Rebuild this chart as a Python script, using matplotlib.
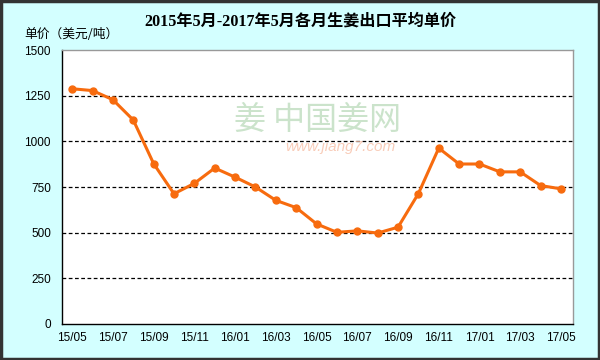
import matplotlib.pyplot as plt
import numpy as np

# monthly average export price of ginger, 2015/05 - 2017/05
months = ['15/05', '15/06', '15/07', '15/08', '15/09', '15/10', '15/11', '15/12',
          '16/01', '16/02', '16/03', '16/04', '16/05', '16/06', '16/07', '16/08',
          '16/09', '16/10', '16/11', '16/12', '17/01', '17/02', '17/03', '17/04', '17/05']
prices = [1288, 1278, 1228, 1117, 878, 713, 770, 854,
          804, 750, 677, 637, 548, 502, 510, 498,
          530, 714, 963, 876, 876, 833, 833, 758, 740]
yticks = [0, 250, 500, 750, 1000, 1250, 1500]

plt.rcParams['font.family'] = ['Liberation Sans', 'Noto Sans CJK SC']

fig = plt.figure(figsize=(6, 3.6), dpi=100, facecolor='#D3FFFF')
ax = fig.add_axes([0.1033, 0.1, 0.852, 0.761])

x = np.arange(len(months))
ax.plot(x, prices, color='#F76B0E', lw=2.2, marker='o', ms=5, zorder=3)

ax.set_xlim(-0.5, len(months) - 0.4)
ax.set_ylim(0, 1500)
ax.set_yticks(yticks)
ax.set_xticks(x[::2])
ax.set_xticklabels(months[::2])
ax.tick_params(length=0, labelsize=8.5, pad=6)
ax.tick_params(axis='y', pad=8)
for y in yticks[1:-1]:
    ax.axhline(y, color='black', lw=0.9, ls=(0, (3, 2)), zorder=1)
for s in ax.spines.values():
    s.set_color('black')
    s.set_linewidth(1)
ax.spines['top'].set_color('#999999')
ax.spines['right'].set_color('#999999')

fig.text(0.5, 0.94, '2015年5月-2017年5月各月生姜出口平均单价',
         family=['Liberation Serif', 'Noto Sans CJK SC'], weight='bold',
         fontsize=11.6, ha='center', va='center')
fig.text(0.04, 0.905, '单价（美元/吨）', family=['Noto Sans CJK SC'],
         fontsize=9.2, ha='left', va='center')

# watermark
ax.text(0.50, 0.745, '姜 中国姜网', transform=ax.transAxes, fontsize=23,
        family=['Noto Sans CJK SC'], color='#B5D8B5', alpha=0.7,
        ha='center', va='center', zorder=2)
ax.text(0.545, 0.646, 'www.jiang7.com', transform=ax.transAxes, fontsize=11,
        style='italic', color='#F7C0A8', alpha=0.8, ha='center', va='center', zorder=2)

# outer dark frame
fig.patches.append(plt.Rectangle((0.002, 0.003), 0.996, 0.994, transform=fig.transFigure,
                                 fill=False, edgecolor='#333333', lw=2.5))

fig.savefig('out.png', dpi=100, facecolor=fig.get_facecolor())
